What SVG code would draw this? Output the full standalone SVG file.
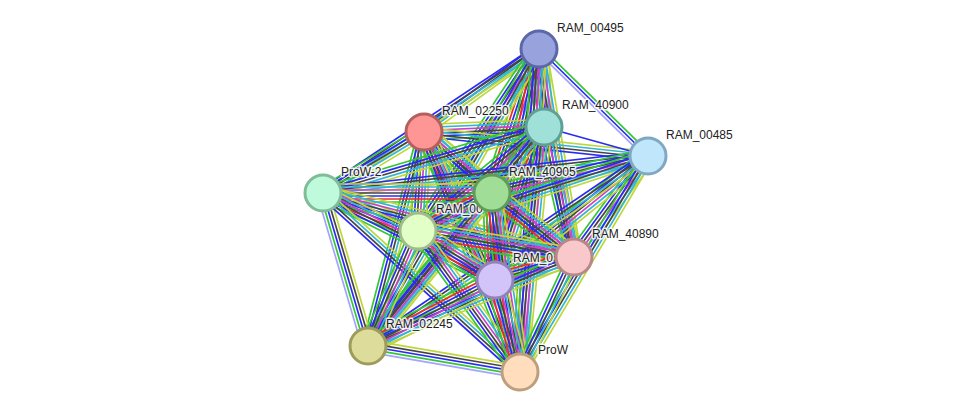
<svg xmlns="http://www.w3.org/2000/svg" xmlns:xlink="http://www.w3.org/1999/xlink" width="975" height="417" viewBox="0 0 975 417">
<style>
.l{stroke-width:1.7;vector-effect:non-scaling-stroke;fill:none}
.t{stroke:#BFD63A}.d{stroke:#33B5D5}.e{stroke:#CC3FCC}.x{stroke:#454545}.o{stroke:#2A2AF5}.f{stroke:#F02828}.n{stroke:#33C733}.h{stroke:#A3A3FF}
.nd{stroke-width:3}
.lb{font-family:"Liberation Sans",Arial,sans-serif;font-size:12px;fill:#222;stroke:#fff;stroke-width:3;stroke-opacity:0.85;paint-order:stroke;stroke-linejoin:round}
</style>
<defs>
<g id="b7"><line class="l t" x1="0" y1="-9" x2="1" y2="-9"/><line class="l d" x1="0" y1="-6" x2="1" y2="-6"/><line class="l e" x1="0" y1="-3" x2="1" y2="-3"/><line class="l x" x1="0" y1="0" x2="1" y2="0"/><line class="l o" x1="0" y1="3" x2="1" y2="3"/><line class="l f" x1="0" y1="6" x2="1" y2="6"/><line class="l n" x1="0" y1="9" x2="1" y2="9"/></g>
<g id="b6"><line class="l t" x1="0" y1="-7.5" x2="1" y2="-7.5"/><line class="l d" x1="0" y1="-4.5" x2="1" y2="-4.5"/><line class="l e" x1="0" y1="-1.5" x2="1" y2="-1.5"/><line class="l x" x1="0" y1="1.5" x2="1" y2="1.5"/><line class="l o" x1="0" y1="4.5" x2="1" y2="4.5"/><line class="l n" x1="0" y1="7.5" x2="1" y2="7.5"/></g>
<g id="b5"><line class="l t" x1="0" y1="-6" x2="1" y2="-6"/><line class="l d" x1="0" y1="-3" x2="1" y2="-3"/><line class="l x" x1="0" y1="0" x2="1" y2="0"/><line class="l o" x1="0" y1="3" x2="1" y2="3"/><line class="l n" x1="0" y1="6" x2="1" y2="6"/></g>
<g id="b4"><line class="l t" x1="0" y1="-4.5" x2="1" y2="-4.5"/><line class="l d" x1="0" y1="-1.5" x2="1" y2="-1.5"/><line class="l x" x1="0" y1="1.5" x2="1" y2="1.5"/><line class="l o" x1="0" y1="4.5" x2="1" y2="4.5"/></g>
<g id="bh5"><line class="l t" x1="0" y1="-6" x2="1" y2="-6"/><line class="l x" x1="0" y1="-3" x2="1" y2="-3"/><line class="l o" x1="0" y1="0" x2="1" y2="0"/><line class="l n" x1="0" y1="3" x2="1" y2="3"/><line class="l h" x1="0" y1="6" x2="1" y2="6"/></g>
<g id="bh3"><line class="l n" x1="0" y1="-3" x2="1" y2="-3"/><line class="l o" x1="0" y1="0" x2="1" y2="0"/><line class="l h" x1="0" y1="3" x2="1" y2="3"/></g>
<g id="b1"><line class="l o" x1="0" y1="0" x2="1" y2="0"/></g>
</defs>
<rect width="975" height="417" fill="#fff"/>
<g id="edges">
<use href="#b4" transform="matrix(-115,83,-0.585,-0.811,539,49)"/>
<use href="#b7" transform="matrix(5,78,-0.998,0.064,539,49)"/>
<use href="#bh3" transform="matrix(109,107,-0.701,0.714,539,49)"/>
<use href="#b4" transform="matrix(-216,144,-0.555,-0.832,539,49)"/>
<use href="#b7" transform="matrix(-47,144,-0.951,-0.310,539,49)"/>
<use href="#b6" transform="matrix(-121,182,-0.833,-0.554,539,49)"/>
<use href="#b6" transform="matrix(35,208,-0.986,0.166,539,49)"/>
<use href="#b7" transform="matrix(-44,231,-0.982,-0.187,539,49)"/>
<use href="#b5" transform="matrix(-171,297,-0.867,-0.499,539,49)"/>
<use href="#b6" transform="matrix(-19,323,-0.998,-0.059,539,49)"/>
<use href="#b6" transform="matrix(120,-5,0.042,0.999,424,132)"/>
<use href="#b4" transform="matrix(224,24,-0.107,0.994,424,132)"/>
<use href="#b5" transform="matrix(-101,61,-0.517,-0.856,424,132)"/>
<use href="#b7" transform="matrix(68,61,-0.668,0.744,424,132)"/>
<use href="#b6" transform="matrix(-6,99,-0.998,-0.060,424,132)"/>
<use href="#b6" transform="matrix(150,125,-0.640,0.768,424,132)"/>
<use href="#b7" transform="matrix(71,148,-0.902,0.433,424,132)"/>
<use href="#b5" transform="matrix(-56,214,-0.967,-0.253,424,132)"/>
<use href="#b6" transform="matrix(96,240,-0.928,0.371,424,132)"/>
<use href="#b1" transform="matrix(104,29,-0.269,0.963,544,127)"/>
<use href="#b5" transform="matrix(-221,66,-0.286,-0.958,544,127)"/>
<use href="#b7" transform="matrix(-52,66,-0.786,-0.619,544,127)"/>
<use href="#b6" transform="matrix(-126,104,-0.637,-0.771,544,127)"/>
<use href="#b6" transform="matrix(30,130,-0.974,0.225,544,127)"/>
<use href="#b7" transform="matrix(-49,153,-0.952,-0.305,544,127)"/>
<use href="#b5" transform="matrix(-176,219,-0.779,-0.626,544,127)"/>
<use href="#b6" transform="matrix(-24,245,-0.995,-0.097,544,127)"/>
<use href="#b4" transform="matrix(-325,37,-0.113,-0.994,648,156)"/>
<use href="#b6" transform="matrix(-156,37,-0.231,-0.973,648,156)"/>
<use href="#b5" transform="matrix(-230,75,-0.310,-0.951,648,156)"/>
<use href="#b6" transform="matrix(-74,101,-0.807,-0.591,648,156)"/>
<use href="#b6" transform="matrix(-153,124,-0.630,-0.777,648,156)"/>
<use href="#b4" transform="matrix(-280,190,-0.561,-0.827,648,156)"/>
<use href="#b5" transform="matrix(-128,216,-0.860,-0.510,648,156)"/>
<use href="#b7" transform="matrix(169,0,0,1,323,193)"/>
<use href="#b7" transform="matrix(95,38,-0.371,0.929,323,193)"/>
<use href="#b6" transform="matrix(251,64,-0.247,0.969,323,193)"/>
<use href="#b6" transform="matrix(172,87,-0.451,0.892,323,193)"/>
<use href="#bh5" transform="matrix(45,153,-0.959,0.282,323,193)"/>
<use href="#b4" transform="matrix(197,179,-0.672,0.740,323,193)"/>
<use href="#b7" transform="matrix(-74,38,-0.457,-0.890,492,193)"/>
<use href="#b7" transform="matrix(82,64,-0.615,0.788,492,193)"/>
<use href="#b7" transform="matrix(3,87,-0.999,0.034,492,193)"/>
<use href="#b6" transform="matrix(-124,153,-0.777,-0.630,492,193)"/>
<use href="#b7" transform="matrix(28,179,-0.988,0.155,492,193)"/>
<use href="#b7" transform="matrix(156,26,-0.164,0.986,418,231)"/>
<use href="#b7" transform="matrix(77,49,-0.537,0.844,418,231)"/>
<use href="#b6" transform="matrix(-50,115,-0.917,-0.399,418,231)"/>
<use href="#b6" transform="matrix(102,141,-0.810,0.586,418,231)"/>
<use href="#b7" transform="matrix(-79,23,-0.280,-0.960,574,257)"/>
<use href="#b5" transform="matrix(-206,89,-0.397,-0.918,574,257)"/>
<use href="#b5" transform="matrix(-54,115,-0.905,-0.425,574,257)"/>
<use href="#b7" transform="matrix(-127,66,-0.461,-0.887,495,280)"/>
<use href="#b7" transform="matrix(25,92,-0.965,0.262,495,280)"/>
<use href="#bh5" transform="matrix(152,26,-0.169,0.986,368,346)"/>
</g>
<g id="RAM_00495"><text class="lb" x="557" y="32">RAM_00495</text><circle class="nd" cx="539" cy="49" r="18" fill="#98A3DE" stroke="#5B67A8"/></g>
<g id="RAM_02250"><text class="lb" x="442" y="115">RAM_02250</text><circle class="nd" cx="424" cy="132" r="18" fill="#FF9696" stroke="#B55E5E"/></g>
<g id="RAM_40900"><text class="lb" x="562" y="109">RAM_40900</text><circle class="nd" cx="544" cy="127" r="18" fill="#9FE0D8" stroke="#5FA096"/></g>
<g id="RAM_00485"><text class="lb" x="666" y="139">RAM_00485</text><circle class="nd" cx="648" cy="156" r="18" fill="#C0E6FB" stroke="#80A8C2"/></g>
<g id="ProW-2"><text class="lb" x="341" y="176">ProW-2</text><circle class="nd" cx="323" cy="193" r="18" fill="#C0FADC" stroke="#80BC98"/></g>
<g id="RAM_00-a"><text class="lb" x="436" y="213">RAM_00</text><circle class="nd" cx="418" cy="231" r="18" fill="#E2FFC8" stroke="#A0BC88"/></g>
<g id="RAM_40905"><text class="lb" x="509" y="176">RAM_40905</text><circle class="nd" cx="492" cy="193" r="18" fill="#A0DD96" stroke="#5F9C58"/></g>
<g id="RAM_0-b"><text class="lb" x="513" y="262">RAM_0</text><circle class="nd" cx="495" cy="280" r="18" fill="#D2C4F8" stroke="#9282B8"/></g>
<g id="RAM_40890"><text class="lb" x="592" y="238">RAM_40890</text><circle class="nd" cx="574" cy="257" r="18" fill="#F8C8CA" stroke="#B88888"/></g>
<g id="RAM_02245"><text class="lb" x="386" y="328">RAM_02245</text><circle class="nd" cx="368" cy="346" r="18" fill="#DDDC9A" stroke="#9D9C5A"/></g>
<g id="ProW"><text class="lb" x="538" y="354">ProW</text><circle class="nd" cx="520" cy="372" r="18" fill="#FFDDBD" stroke="#BD9F80"/></g>
</svg>
